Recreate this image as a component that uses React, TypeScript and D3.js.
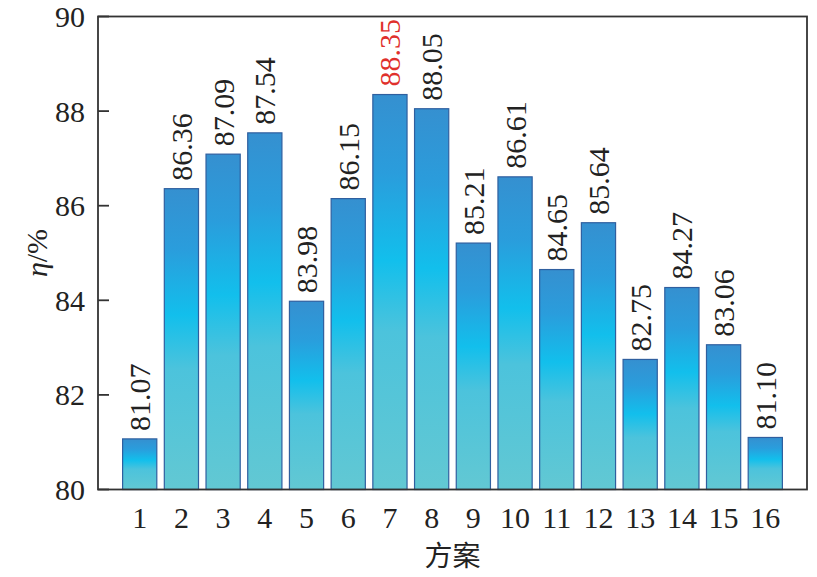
import React from "react";
import * as d3 from "d3";

const categories = ["1","2","3","4","5","6","7","8","9","10","11","12","13","14","15","16"];
const values = [81.07, 86.36, 87.09, 87.54, 83.98, 86.15, 88.35, 88.05, 85.21, 86.61, 84.65, 85.64, 82.75, 84.27, 83.06, 81.10];
const labels = ["81.07","86.36","87.09","87.54","83.98","86.15","88.35","88.05","85.21","86.61","84.65","85.64","82.75","84.27","83.06","81.10"];
const yTicks = [80, 82, 84, 86, 88, 90];
const highlightIndex = 6;

const W = 817, H = 577;
const L = 98, R = 807, T = 16.5, B = 489.5;
const serif = "Liberation Serif, Times New Roman, Times, serif";

export default function App() {
  const x = d3.scaleLinear().domain([0, categories.length + 1]).range([L, R]);
  const y = d3.scaleLinear().domain([80, 90]).range([B, T]);
  const step = x(1) - x(0);
  const bw = step * 0.82;
  const txt = { fontFamily: serif };
  return (
    <svg width={W} height={H} style={{ position: "absolute", left: 0, top: 0, background: "#fff" }}>
      <defs>
        <linearGradient id="barGrad" x1="0" y1="0" x2="0" y2="1">
          <stop offset="0" stopColor="#3590d0" />
          <stop offset="0.2" stopColor="#2a9ddc" />
          <stop offset="0.42" stopColor="#12bfec" />
          <stop offset="0.6" stopColor="#4cc3dc" />
          <stop offset="1" stopColor="#62c8d3" />
        </linearGradient>
      </defs>
      {values.map((v, i) => {
        const cx = x(i + 1);
        const top = y(v);
        return (
          <g key={i}>
            <rect x={cx - bw / 2} y={top} width={bw} height={B - top}
              fill="url(#barGrad)" stroke="#2f5f9f" strokeWidth={1.2} />
            <text transform={`translate(${cx},${top - 8}) rotate(-90)`}
              style={txt} fontSize={30} dy="0.35em"
              fill={i === highlightIndex ? "#e0302c" : "#222"}>{labels[i]}</text>
          </g>
        );
      })}
      <rect x={L} y={T} width={R - L} height={B - T} fill="none" stroke="#333" strokeWidth={1.8} />
      {yTicks.map((t) => (
        <g key={t}>
          <line x1={L} x2={L + 11} y1={y(t)} y2={y(t)} stroke="#333" strokeWidth={1.8} />
          <text x={L - 13} y={y(t)} dy="0.35em" textAnchor="end" style={txt} fontSize={30} fill="#222">{t}</text>
        </g>
      ))}
      {categories.map((c, i) => (
        <text key={c} x={x(i + 1)} y={B + 28} dy="0.35em" textAnchor="middle" style={txt} fontSize={30} fill="#222">{c}</text>
      ))}
      <text transform={`translate(36,${(T + B) / 2}) rotate(-90)`} textAnchor="middle" dy="0.35em" style={txt} fontSize={30} fill="#222">
        <tspan fontStyle="italic">η</tspan>/%
      </text>
      <text x={(L + R) / 2} y={556} dy="0.35em" textAnchor="middle" style={{ fontFamily: "Noto Sans CJK SC, sans-serif" }} fontSize={28} fill="#222">方案</text>
    </svg>
  );
}
